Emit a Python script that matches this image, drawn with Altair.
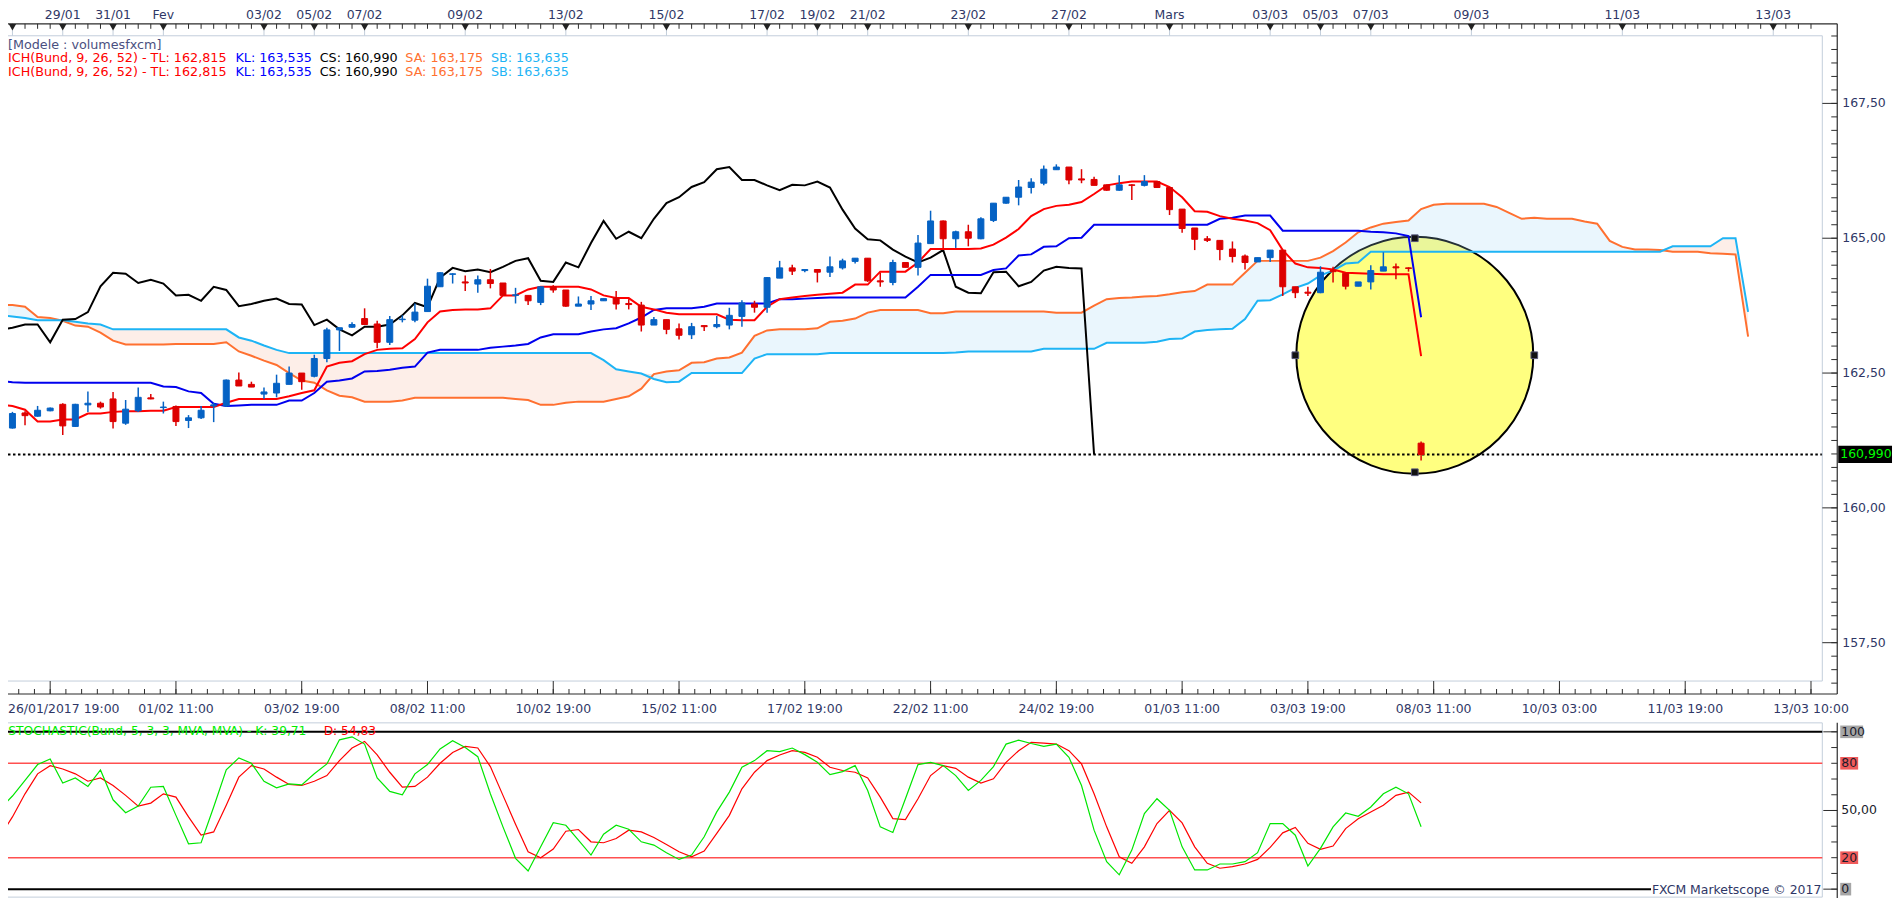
import altair as alt
import pandas as pd

# ---------------- data ----------------
bar_open = [161.48, 161.76, 161.70, 161.80, 161.92, 161.51, 161.91, 161.94, 162.02, 161.57,
            161.80, 162.04, 161.86, 161.88, 161.62, 161.67, 161.89, 161.89, 162.37, 162.29,
            162.11, 162.13, 162.29, 162.50, 162.44, 162.77, 163.30, 163.35, 163.51, 163.41,
            163.07, 163.49, 163.48, 163.64, 164.10, 164.33, 164.19, 164.15, 164.23, 164.17,
            163.94, 163.94, 163.81, 164.10, 164.04, 163.74, 163.78, 163.84, 163.89, 163.79,
            163.76, 163.39, 163.49, 163.32, 163.21, 163.38, 163.36, 163.39, 163.55, 163.78,
            163.72, 164.26, 164.45, 164.40, 164.42, 164.37, 164.45, 164.57, 164.63, 164.21,
            164.18, 164.55, 164.46, 164.90, 165.32, 164.99, 165.12, 164.99, 165.33, 165.65,
            165.76, 165.94, 166.02, 166.27, 166.32, 166.10, 166.09, 165.99, 165.89, 165.99,
            165.98, 166.05, 165.94, 165.54, 165.19, 164.99, 164.96, 164.80, 164.67, 164.56,
            164.64, 164.78, 164.10, 164.00, 163.99, 164.40, 164.35, 164.11, 164.19, 164.39,
            164.47, 164.45, 161.20]
bar_high = [161.78, 161.79, 161.89, 161.86, 161.94, 161.93, 162.16, 161.97, 162.15, 162.00,
            162.23, 162.11, 161.97, 161.90, 161.72, 161.89, 161.95, 162.38, 162.51, 162.34,
            162.23, 162.47, 162.62, 162.50, 162.84, 163.34, 163.34, 163.44, 163.70, 163.47,
            163.56, 163.57, 163.79, 164.25, 164.37, 164.35, 164.31, 164.31, 164.43, 164.17,
            164.08, 163.94, 164.10, 164.13, 164.04, 163.92, 163.93, 163.88, 164.02, 163.87,
            163.82, 163.54, 163.49, 163.42, 163.43, 163.38, 163.56, 163.71, 163.85, 163.84,
            164.28, 164.58, 164.51, 164.43, 164.42, 164.66, 164.62, 164.63, 164.63, 164.36,
            164.60, 164.55, 165.06, 165.51, 165.33, 165.14, 165.25, 165.39, 165.65, 165.76,
            166.08, 166.11, 166.35, 166.37, 166.32, 166.28, 166.14, 165.99, 166.17, 166.00,
            166.17, 166.05, 165.94, 165.54, 165.19, 165.04, 164.96, 164.94, 164.70, 164.64,
            164.78, 164.78, 164.10, 164.10, 164.48, 164.47, 164.35, 164.19, 164.50, 164.74,
            164.53, 164.46, 161.23]
bar_low = [161.47, 161.53, 161.69, 161.79, 161.35, 161.50, 161.78, 161.84, 161.47, 161.54,
           161.78, 162.015, 161.75, 161.52, 161.48, 161.65, 161.59, 161.87, 162.26, 162.24,
           162.02, 162.05, 162.29, 162.19, 162.42, 162.70, 162.91, 163.34, 163.40, 162.96,
           163.02, 163.44, 163.44, 163.64, 164.10, 164.16, 164.02, 163.99, 164.07, 163.93,
           163.79, 163.76, 163.76, 163.99, 163.73, 163.74, 163.67, 163.84, 163.68, 163.68,
           163.27, 163.39, 163.22, 163.12, 163.13, 163.28, 163.33, 163.31, 163.36, 163.62,
           163.62, 164.26, 164.32, 164.37, 164.18, 164.28, 164.42, 164.53, 164.19, 164.10,
           164.13, 164.46, 164.31, 164.90, 164.82, 164.82, 164.85, 164.98, 165.30, 165.64,
           165.61, 165.83, 165.98, 166.27, 166.00, 166.02, 165.98, 165.88, 165.88, 165.71,
           165.96, 165.94, 165.43, 165.10, 164.78, 164.93, 164.59, 164.55, 164.42, 164.56,
           164.56, 163.93, 163.89, 163.93, 163.98, 164.18, 164.05, 164.11, 164.05, 164.39,
           164.24, 164.38, 160.88]
bar_close = [161.75, 161.71, 161.81, 161.85, 161.52, 161.92, 161.94, 161.87, 161.60, 161.83,
             162.05, 162.02, 161.87, 161.60, 161.67, 161.81, 161.91, 162.37, 162.26, 162.24,
             162.15, 162.31, 162.50, 162.34, 162.77, 163.30, 163.34, 163.40, 163.40, 163.07,
             163.49, 163.50, 163.63, 164.11, 164.36, 164.34, 164.17, 164.23, 164.16, 163.94,
             163.95, 163.84, 164.10, 164.04, 163.74, 163.78, 163.84, 163.88, 163.78, 163.77,
             163.39, 163.49, 163.31, 163.20, 163.36, 163.36, 163.40, 163.57, 163.80, 163.72,
             164.27, 164.45, 164.39, 164.42, 164.37, 164.47, 164.58, 164.63, 164.21, 164.19,
             164.55, 164.46, 164.91, 165.32, 164.99, 165.12, 165.00, 165.36, 165.65, 165.76,
             165.95, 166.04, 166.28, 166.32, 166.08, 166.08, 165.98, 165.89, 165.99, 165.98,
             166.05, 165.94, 165.53, 165.18, 164.98, 164.96, 164.79, 164.66, 164.55, 164.64,
             164.78, 164.10, 163.99, 163.98, 164.37, 164.38, 164.11, 164.19, 164.40, 164.47,
             164.45, 164.44, 160.99]

line_first_bar = -1   # indicator arrays below start one bar left of the first candle
tenkan = [161.91, 161.89, 161.82, 161.60, 161.60, 161.64, 161.64, 161.75, 161.75, 161.78,
          161.79, 161.79, 161.80, 161.80, 161.87, 161.87, 161.87, 161.87, 161.95, 162.02,
          162.02, 162.02, 162.02, 162.07, 162.13, 162.18, 162.62, 162.69, 162.72, 162.85,
          162.93, 162.95, 162.96, 163.13, 163.44, 163.64, 163.67, 163.68, 163.68, 163.70,
          163.94, 163.94, 164.05, 164.10, 164.10, 164.10, 164.10, 164.05, 163.94, 163.89,
          163.89, 163.73, 163.68, 163.62, 163.59, 163.59, 163.59, 163.59, 163.49, 163.48,
          163.48, 163.73, 163.87, 163.90, 163.93, 163.95, 163.97, 163.99, 164.14, 164.14,
          164.38, 164.38, 164.38, 164.55, 164.80, 164.80, 164.80, 164.80, 164.81, 164.88,
          165.01, 165.17, 165.41, 165.54, 165.60, 165.62, 165.67, 165.82, 165.98, 166.02,
          166.05, 166.05, 166.05, 165.95, 165.76, 165.50, 165.49, 165.41, 165.36, 165.33,
          165.28, 165.15, 164.78, 164.53, 164.46, 164.45, 164.42, 164.36, 164.35, 164.34,
          164.33, 164.33, 164.33, 162.815]
kijun = [162.36, 162.33, 162.32, 162.32, 162.32, 162.32, 162.32, 162.32, 162.32, 162.32,
         162.32, 162.32, 162.32, 162.25, 162.24, 162.16, 162.13, 161.93, 161.89, 161.90,
         161.91, 161.91, 161.91, 161.99, 161.99, 162.13, 162.34, 162.36, 162.40, 162.53,
         162.54, 162.56, 162.60, 162.62, 162.88, 162.93, 162.93, 162.93, 162.93, 162.97,
         162.99, 163.01, 163.04, 163.16, 163.22, 163.22, 163.22, 163.27, 163.31, 163.33,
         163.42, 163.53, 163.67, 163.70, 163.70, 163.70, 163.73, 163.79, 163.79, 163.79,
         163.79, 163.79, 163.87, 163.87, 163.88, 163.89, 163.90, 163.90, 163.90, 163.90,
         163.90, 163.90, 163.90, 164.10, 164.32, 164.32, 164.32, 164.32, 164.32, 164.41,
         164.44, 164.68, 164.70, 164.84, 164.85, 165.00, 165.01, 165.25, 165.25, 165.25,
         165.25, 165.25, 165.25, 165.25, 165.25, 165.25, 165.25, 165.36, 165.38, 165.42,
         165.42, 165.42, 165.14, 165.14, 165.14, 165.14, 165.14, 165.14, 165.14, 165.12,
         165.11, 165.09, 165.04, 163.535]
senkou_a = [163.77, 163.76, 163.73, 163.54, 163.52, 163.47, 163.38, 163.36, 163.25, 163.10,
            163.03, 163.03, 163.03, 163.03, 163.04, 163.04, 163.04, 163.04, 163.07, 162.90,
            162.82, 162.73, 162.65, 162.50, 162.36, 162.32, 162.18, 162.08, 162.05, 161.97,
            161.97, 161.97, 161.99, 162.04, 162.04, 162.04, 162.04, 162.04, 162.04, 162.04,
            162.04, 162.02, 162.00, 161.91, 161.91, 161.95, 161.97, 161.97, 161.97, 162.02,
            162.07, 162.21, 162.48, 162.53, 162.55, 162.69, 162.70, 162.77, 162.79, 162.88,
            163.19, 163.29, 163.31, 163.31, 163.31, 163.33, 163.45, 163.47, 163.51, 163.62,
            163.67, 163.67, 163.67, 163.67, 163.61, 163.61, 163.64, 163.64, 163.64, 163.64,
            163.64, 163.64, 163.64, 163.64, 163.62, 163.62, 163.62, 163.75, 163.87, 163.89,
            163.90, 163.92, 163.93, 163.96, 164.00, 164.02, 164.14, 164.14, 164.14, 164.36,
            164.58, 164.58, 164.58, 164.58, 164.58, 164.64, 164.76, 164.92, 165.11, 165.20,
            165.27, 165.30, 165.33, 165.54, 165.62, 165.64, 165.64, 165.64, 165.64, 165.58,
            165.47, 165.36, 165.38, 165.36, 165.36, 165.36, 165.31, 165.27, 164.95, 164.84,
            164.79, 164.79, 164.78, 164.75, 164.75, 164.75, 164.72, 164.71, 164.70, 163.175]
senkou_b = [163.57, 163.55, 163.52, 163.48, 163.48, 163.48, 163.45, 163.42, 163.40, 163.31,
            163.31, 163.31, 163.31, 163.31, 163.31, 163.31, 163.31, 163.31, 163.31, 163.16,
            163.10, 163.01, 162.93, 162.87, 162.87, 162.87, 162.87, 162.87, 162.87, 162.87,
            162.87, 162.87, 162.87, 162.87, 162.87, 162.87, 162.87, 162.87, 162.87, 162.87,
            162.87, 162.87, 162.87, 162.87, 162.87, 162.87, 162.87, 162.87, 162.74, 162.57,
            162.53, 162.49, 162.39, 162.33, 162.34, 162.50, 162.50, 162.50, 162.50, 162.50,
            162.77, 162.85, 162.85, 162.85, 162.85, 162.85, 162.87, 162.87, 162.87, 162.87,
            162.87, 162.87, 162.87, 162.87, 162.87, 162.87, 162.88, 162.90, 162.90, 162.90,
            162.90, 162.90, 162.90, 162.95, 162.95, 162.95, 162.95, 162.95, 163.06, 163.06,
            163.06, 163.06, 163.08, 163.13, 163.14, 163.27, 163.30, 163.31, 163.32, 163.50,
            163.84, 163.85, 163.96, 164.08, 164.16, 164.31, 164.40, 164.53, 164.55, 164.75,
            164.75, 164.75, 164.75, 164.75, 164.75, 164.75, 164.75, 164.75, 164.75, 164.75,
            164.75, 164.75, 164.75, 164.75, 164.75, 164.75, 164.75, 164.75, 164.75, 164.75,
            164.75, 164.75, 164.75, 164.85, 164.85, 164.85, 164.85, 165.00, 165.00, 163.635]
chikou_shift = 26

stoch_k = [50.7, 59.2, 69.1, 79.2, 82.7, 67.4, 70.7, 65.3, 75.8, 56.8,
           48.6, 52.8, 64.8, 65.3, 46.9, 28.8, 29.5, 52.2, 75.8, 83.4,
           80.0, 68.6, 64.4, 66.9, 66.3, 73.3, 79.6, 94.9, 96.8, 92.2,
           70.7, 62.1, 60.0, 73.3, 79.2, 89.1, 94.3, 90.1, 84.2, 60.6,
           39.6, 19.6, 11.6, 26.9, 42.3, 40.6, 31.2, 21.7, 34.9, 40.6,
           38.1, 30.1, 28.0, 23.2, 18.9, 21.7, 33.3, 49.1, 61.7, 77.5,
           81.7, 88.0, 87.4, 89.7, 85.5, 80.6, 72.8, 74.7, 78.5, 62.7,
           39.6, 36.0, 57.5, 79.2, 80.6, 78.5, 72.2, 62.7, 69.1, 77.9,
           92.2, 94.7, 92.6, 90.7, 92.2, 83.8, 65.9, 37.5, 17.5, 9.1,
           24.8, 48.0, 57.5, 50.1, 26.9, 12.2, 12.2, 16.0, 16.0, 17.5,
           23.2, 41.7, 41.7, 34.3, 14.7, 25.9, 39.6, 48.4, 46.3, 52.2,
           60.6, 64.8, 60.6, 39.71]
stoch_d = [33.3, 45.9, 60.6, 73.3, 78.5, 76.4, 73.3, 68.6, 70.7, 65.9,
           59.6, 52.8, 54.7, 60.6, 58.5, 45.9, 34.3, 36.4, 53.3, 71.2,
           78.5, 76.4, 71.2, 66.5, 65.9, 68.6, 72.2, 81.7, 89.7, 93.9,
           85.3, 74.3, 64.8, 65.3, 71.2, 80.0, 86.9, 90.7, 89.7, 77.9,
           59.6, 41.3, 23.8, 20.0, 25.5, 36.8, 37.9, 30.1, 29.5, 32.2,
           37.5, 36.4, 32.8, 28.4, 23.8, 20.6, 24.2, 35.4, 46.9, 63.8,
           74.3, 81.7, 85.3, 88.0, 86.9, 83.8, 77.5, 75.4, 74.3, 70.7,
           58.5, 44.8, 44.2, 57.5, 72.2, 78.5, 76.8, 71.2, 67.4, 70.1,
           80.6, 88.0, 93.3, 92.8, 92.2, 88.0, 79.6, 60.6, 39.6, 20.6,
           16.4, 26.9, 41.7, 50.1, 42.1, 26.9, 16.4, 13.3, 14.3, 16.0,
           18.9, 26.5, 35.8, 39.2, 29.1, 25.3, 27.4, 38.5, 44.8, 49.1,
           53.3, 59.6, 61.7, 54.83]
stoch_levels = [80, 20]
stoch_bounds = [100, 0]

top_tick_bars = [0, 4, 8, 12, 20, 24, 28, 36, 44, 52, 60, 64, 68, 76, 84, 92, 100, 104, 108, 116, 128, 140]
top_tick_labels = ["", "29/01", "31/01", "Fev", "03/02", "05/02", "07/02", "09/02", "13/02", "15/02",
                   "17/02", "19/02", "21/02", "23/02", "27/02", "Mars", "03/03", "05/03", "07/03",
                   "09/03", "11/03", "13/03"]
bottom_tick_bars = [3, 13, 23, 33, 43, 53, 63, 73, 83, 93, 103, 113, 123, 133, 143]
bottom_tick_labels = ["26/01/2017 19:00", "01/02 11:00", "03/02 19:00", "08/02 11:00", "10/02 19:00",
                      "15/02 11:00", "17/02 19:00", "22/02 11:00", "24/02 19:00", "01/03 11:00",
                      "03/03 19:00", "08/03 11:00", "10/03 03:00", "11/03 19:00", "13/03 10:00"]
price_ticks = [157.5, 160.0, 162.5, 165.0, 167.5]
price_tick_labels = ["157,50", "160,00", "162,50", "165,00", "167,50"]
stoch_ticks = [100, 80, 50, 20, 0]
stoch_tick_labels = ["100", "80", "50,00", "20", "0"]

ellipse_bar, ellipse_price = 111.5, 162.83
handle_bars = [111.5, 111.5, 102.0, 121.0]
handle_prices = [165.0, 160.66, 162.83, 162.83]

# ---------------- layout helpers ----------------
OX, OY = -8, -6
def px(v): return v + OX
def py(v): return v + OY

F = "DejaVu Sans"
FS = 12.5       # axis labels
FL = 12.8       # legend / indicator captions
NAVY = "#2f3766"
DARK = "#2b2b2b"
LIGHT = "#c3cedb"
UP, DOWN = "#0562c4", "#dd0000"

XS = alt.Scale(domain=[-0.5906, 143.504], range=[px(0), px(1830)], nice=False, zero=False)
YS = alt.Scale(domain=[156.789, 168.754], range=[py(680), py(32)], nice=False, zero=False)
SS = alt.Scale(domain=[0, 100], range=[py(889), py(731)], nice=False, zero=False)
CS = alt.Scale(domain=["up", "down"], range=[UP, DOWN])

def X(f): return alt.X(f, type="quantitative", scale=XS, axis=None)
def Y(f): return alt.Y(f, type="quantitative", scale=YS, axis=None)
def S(f): return alt.Y(f, type="quantitative", scale=SS, axis=None)

ONE = pd.DataFrame({"k": [0]})

def prule(x1, y1, x2, y2, color=DARK, w=1.0):
    return alt.Chart(ONE).mark_rule(color=color, strokeWidth=w).encode(
        x=alt.value(px(x1)), x2=alt.value(px(x2)), y=alt.value(py(y1)), y2=alt.value(py(y2)))

def ptext(txt, x, y, color, size=FL, align="left"):
    return alt.Chart(pd.DataFrame({"t": [txt]})).mark_text(
        font=F, fontSize=size, color=color, align=align, baseline="middle").encode(
        x=alt.value(max(0, px(x))), y=alt.value(py(y)), text="t:N")

def fmt(v, d):
    return f"{v:.{d}f}".replace(".", ",")

layers = []

# ---------------- main panel ----------------
n = len(bar_close)
candles = pd.DataFrame({"i": list(range(n)), "o": bar_open, "h": bar_high, "l": bar_low, "c": bar_close})
candles["dir"] = ["up" if c >= o else "down" for o, c in zip(bar_open, bar_close)]

line_bars = list(range(line_first_bar, line_first_bar + len(tenkan)))
cloud_bars = list(range(line_first_bar, line_first_bar + len(senkou_a)))
cloud = pd.DataFrame({"i": cloud_bars, "sa": senkou_a, "sb": senkou_b})

# highlight ellipse (under everything)
layers.append(alt.Chart(pd.DataFrame({"i": [ellipse_bar], "p": [ellipse_price]})).mark_point(
    shape="circle", filled=True, fill="#ffff80", stroke="#000000", strokeWidth=2,
    size=238 * 238, opacity=1).encode(x=X("i"), y=Y("p")))

# cloud fills
layers.append(alt.Chart(cloud).transform_calculate(hi="max(datum.sa, datum.sb)").mark_area(
    color="#9fd6f7", opacity=0.22).encode(x=X("i"), y=Y("hi"), y2=alt.Y2("sb")))
layers.append(alt.Chart(cloud).transform_calculate(hi="max(datum.sa, datum.sb)").mark_area(
    color="#f5a080", opacity=0.18).encode(x=X("i"), y=Y("hi"), y2=alt.Y2("sa")))

# last close dotted line
layers.append(alt.Chart(pd.DataFrame({"p": [bar_close[-1]]})).mark_rule(
    color="#000000", strokeWidth=2, strokeDash=[2.5, 2.5]).encode(
    y=Y("p"), x=alt.value(0), x2=alt.value(px(1830))))

def line(df, color, w=2.0):
    return alt.Chart(df).mark_line(color=color, strokeWidth=w, clip=True).encode(x=X("i"), y=Y("v"))

layers.append(line(pd.DataFrame({"i": cloud_bars, "v": senkou_a}), "#ff7030"))
layers.append(line(pd.DataFrame({"i": cloud_bars, "v": senkou_b}), "#1eb4f5"))
layers.append(line(pd.DataFrame({"i": [k - chikou_shift for k in range(n)], "v": bar_close}), "#000000"))
layers.append(line(pd.DataFrame({"i": line_bars, "v": kijun}), "#0000ee"))
layers.append(line(pd.DataFrame({"i": line_bars, "v": tenkan}), "#ff0000"))

# candles
layers.append(alt.Chart(candles).mark_rule(strokeWidth=1.5).encode(
    x=X("i"), y=Y("l"), y2=alt.Y2("h"), color=alt.Color("dir:N", scale=CS, legend=None)))
layers.append(alt.Chart(candles).mark_bar(size=6, strokeWidth=1).encode(
    x=X("i"), y=Y("o"), y2=alt.Y2("c"),
    color=alt.Color("dir:N", scale=CS, legend=None),
    stroke=alt.Stroke("dir:N", scale=CS, legend=None)))

# ellipse handles
layers.append(alt.Chart(pd.DataFrame({"i": handle_bars, "p": handle_prices})).mark_point(
    shape="square", filled=True, fill="#111111", stroke="#555577", strokeWidth=1,
    size=45, opacity=1).encode(x=X("i"), y=Y("p")))

# legend texts
layers.append(ptext("[Modele : volumesfxcm]", 7.9, 41, "#4a5080"))
for yy in (54.3, 68.3):
    layers.append(ptext(f"ICH(Bund, 9, 26, 52) -  TL: {fmt(tenkan[-1], 3)}", 7.9, yy, "#ff0000"))
    layers.append(ptext(f"KL: {fmt(kijun[-1], 3)}", 236.4, yy, "#0000ff"))
    layers.append(ptext(f"CS: {fmt(bar_close[-1], 3)}", 321, yy, "#000000"))
    layers.append(ptext(f"SA: {fmt(senkou_a[-1], 3)}", 407, yy, "#ff7030"))
    layers.append(ptext(f"SB: {fmt(senkou_b[-1], 3)}", 493, yy, "#1eb4f5"))

# frames
layers.append(prule(0, 32, 1830, 32, LIGHT))
layers.append(prule(1830, 32, 1830, 680, LIGHT))
layers.append(prule(0, 680, 1830, 680, LIGHT))
layers.append(prule(0, 722, 1830, 722, LIGHT))
layers.append(prule(1830, 722, 1830, 897, LIGHT))
layers.append(prule(0, 897, 1830, 897, LIGHT))

# rulers
layers.append(prule(0, 20, 1845, 20, DARK, 1.2))
layers.append(prule(1845, 20, 1845, 693, DARK, 1.2))
layers.append(prule(0, 693, 1845, 693, DARK, 1.2))
layers.append(prule(1845, 722, 1845, 898, DARK, 1.2))

# top ruler ticks, markers and labels
top_minor = pd.DataFrame({"b": list(range(0, 144))})
layers.append(alt.Chart(top_minor).mark_rule(color=DARK, strokeWidth=1).encode(
    x=X("b"), y=alt.value(py(20)), y2=alt.value(py(25))))
top_df = pd.DataFrame({"b": top_tick_bars, "t": top_tick_labels})
layers.append(alt.Chart(top_df).mark_rule(color=LIGHT, strokeWidth=1).encode(
    x=X("b"), y=alt.value(py(26)), y2=alt.value(py(32))))
layers.append(alt.Chart(top_df).mark_point(shape="triangle-down", filled=True, color="#222222",
                                           size=55, opacity=1).encode(x=X("b"), y=alt.value(py(23.5))))
layers.append(alt.Chart(top_df).mark_text(font=F, fontSize=FS, color=NAVY, baseline="middle").encode(
    x=X("b"), y=alt.value(py(11.5)), text="t:N"))

# right price ruler
pt_df = pd.DataFrame({"p": price_ticks, "t": price_tick_labels})
minor_prices = pd.DataFrame({"p": [156.75 + 0.25 * k for k in range(49)]})
layers.append(alt.Chart(minor_prices).mark_rule(color=DARK, strokeWidth=1).encode(
    y=Y("p"), x=alt.value(px(1839)), x2=alt.value(px(1845))))
layers.append(alt.Chart(pt_df).mark_rule(color=DARK, strokeWidth=1).encode(
    y=Y("p"), x=alt.value(px(1830)), x2=alt.value(px(1845))))
layers.append(alt.Chart(pt_df).mark_text(font=F, fontSize=FS, color=NAVY, align="left", baseline="middle").encode(
    y=Y("p"), x=alt.value(px(1850)), text="t:N"))

# last price box
lp = pd.DataFrame({"p": [bar_close[-1]], "t": [fmt(bar_close[-1], 3)]})
layers.append(alt.Chart(lp).transform_calculate(lo="datum.p - 0.16", hi="datum.p + 0.16").mark_rect(
    color="#000000").encode(y=Y("lo"), y2=alt.Y2("hi"), x=alt.value(px(1846)), x2=alt.value(px(1900))))
layers.append(alt.Chart(lp).mark_text(font=F, fontSize=FS, color="#00ff00", align="left", baseline="middle").encode(
    y=Y("p"), x=alt.value(px(1848)), text="t:N"))

# bottom ruler
bt_df = pd.DataFrame({"b": bottom_tick_bars, "t": bottom_tick_labels})
bottom_minor = pd.DataFrame({"b": [0.5 + 1.25 * k for k in range(115)]})
layers.append(alt.Chart(bottom_minor).mark_rule(color=DARK, strokeWidth=1).encode(
    x=X("b"), y=alt.value(py(688)), y2=alt.value(py(693))))
layers.append(alt.Chart(bt_df).mark_rule(color=DARK, strokeWidth=1).encode(
    x=X("b"), y=alt.value(py(680)), y2=alt.value(py(693))))
layers.append(alt.Chart(bt_df.iloc[1:]).mark_text(font=F, fontSize=FS, color=NAVY, baseline="middle").encode(
    x=X("b"), y=alt.value(py(708)), text="t:N"))
layers.append(alt.Chart(bt_df.iloc[:1]).mark_text(font=F, fontSize=FS, color=NAVY, align="left", baseline="middle").encode(
    x=alt.value(0), y=alt.value(py(708)), text="t:N"))

# ---------------- stochastic panel ----------------
layers.append(alt.Chart(pd.DataFrame({"v": stoch_levels})).mark_rule(color="#ff5050", strokeWidth=1.5).encode(
    y=S("v"), x=alt.value(0), x2=alt.value(px(1830))))
layers.append(alt.Chart(pd.DataFrame({"v": stoch_bounds[:1]})).mark_rule(color="#000000", strokeWidth=2).encode(
    y=S("v"), x=alt.value(0), x2=alt.value(px(1830))))
layers.append(alt.Chart(pd.DataFrame({"v": stoch_bounds[1:]})).mark_rule(color="#000000", strokeWidth=2).encode(
    y=S("v"), x=alt.value(0), x2=alt.value(px(1658))))
layers.append(alt.Chart(pd.DataFrame({"i": line_bars, "v": stoch_d})).mark_line(
    color="#ff0000", strokeWidth=1.2, clip=True).encode(x=X("i"), y=S("v")))
layers.append(alt.Chart(pd.DataFrame({"i": line_bars, "v": stoch_k})).mark_line(
    color="#00e600", strokeWidth=1.2, clip=True).encode(x=X("i"), y=S("v")))

layers.append(ptext(f"STOCHASTIC(Bund, 5, 3, 3, MVA, MVA) - K: {fmt(stoch_k[-1], 2)}", 8.3, 730.5, "#00ee00", 12.3))
layers.append(ptext(f"D: {fmt(stoch_d[-1], 2)}", 325, 730.5, "#ff0000", 12.3))
layers.append(ptext("FXCM Marketscope © 2017", 1829, 890, NAVY, FS, "right"))

st_df = pd.DataFrame({"v": stoch_ticks, "t": stoch_tick_labels,
                      "w": [23, 18, 0, 18, 11],
                      "bg": ["#a6a6a6", "#f05a5a", "#ffffff", "#f05a5a", "#a6a6a6"]})
layers.append(alt.Chart(pd.DataFrame({"v": list(range(0, 101, 10))})).mark_rule(color=DARK, strokeWidth=1).encode(
    y=S("v"), x=alt.value(px(1839)), x2=alt.value(px(1845))))
layers.append(alt.Chart(pd.DataFrame({"v": [0, 50, 100]})).mark_rule(color=DARK, strokeWidth=1).encode(
    y=S("v"), x=alt.value(px(1831)), x2=alt.value(px(1845))))
layers.append(alt.Chart(st_df[st_df["w"] > 0]).transform_calculate(
    lo="datum.v - 4", hi="datum.v + 4", x1=f"{px(1848)}", x2=f"{px(1848)} + datum.w").mark_rect().encode(
    y=S("lo"), y2=alt.Y2("hi"),
    x=alt.X("x1:Q", scale=None, axis=None), x2=alt.X2("x2:Q"),
    color=alt.Color("bg:N", scale=None, legend=None)))
layers.append(alt.Chart(st_df).mark_text(font=F, fontSize=FS, color="#1a1a2a", align="left", baseline="middle").encode(
    y=S("v"), x=alt.value(px(1849)), text="t:N"))

chart = alt.layer(*layers).resolve_scale(y="independent").properties(
    width=1895, height=892, autosize=alt.AutoSizeParams(type="none"), padding=0,
    background="white").configure_view(stroke=None)

chart.save("out.html", embed_options={"renderer": "svg", "actions": False})
